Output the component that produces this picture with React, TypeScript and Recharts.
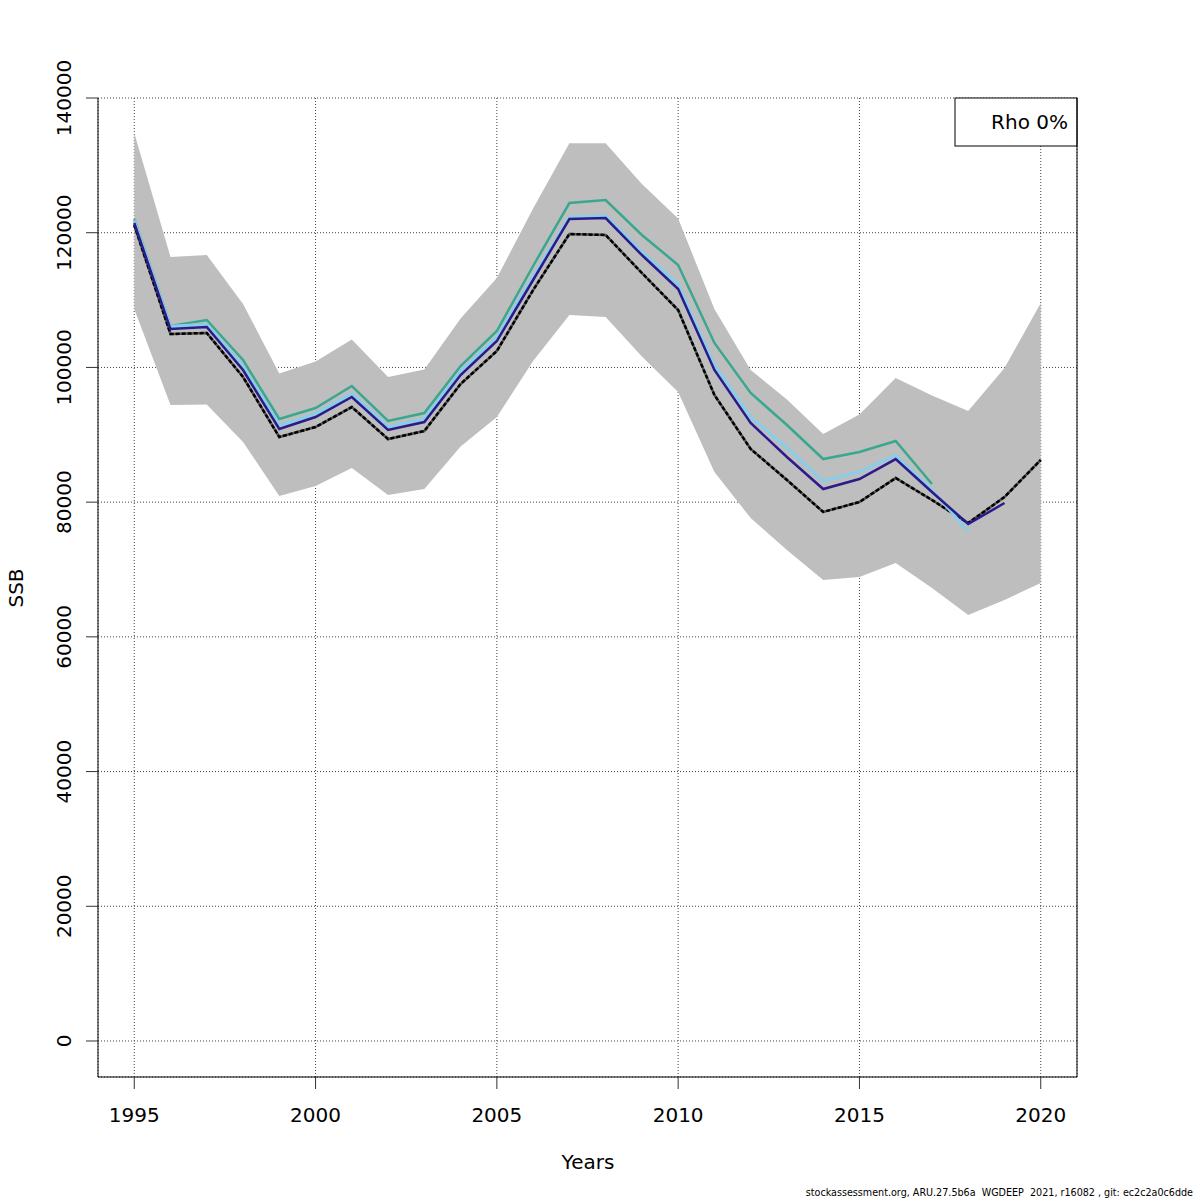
import React from 'react';
import {
  ComposedChart,
  Area,
  Line,
  XAxis,
  YAxis,
  CartesianGrid,
  ReferenceLine,
  Customized,
} from 'recharts';

const FONT = '"DejaVu Sans", Verdana, sans-serif';

const years = [
  1995, 1996, 1997, 1998, 1999, 2000, 2001, 2002, 2003, 2004, 2005, 2006, 2007,
  2008, 2009, 2010, 2011, 2012, 2013, 2014, 2015, 2016, 2017, 2018, 2019, 2020,
];

const bandHigh = [
  134800, 116400, 116700, 109420, 99100, 100880, 104140, 98580, 99690, 107260,
  113270, 123590, 133300, 133300, 127230, 122110, 108670, 99620, 95240, 90110,
  93010, 98430, 95830, 93530, 99910, 109560,
];

const bandLow = [
  108670, 94420, 94500, 88930, 80910, 82400, 85070, 81060, 81950, 88260, 92640,
  100950, 107780, 107490, 101620, 96350, 84470, 77640, 72900, 68440, 68880,
  70960, 67250, 63240, 65470, 68000,
];

const baseSSB = [
  121140, 104960, 105110, 98580, 89670, 91150, 94120, 89370, 90560, 97540,
  102440, 111490, 119810, 119660, 114020, 108520, 95910, 87890, 83290, 78540,
  80020, 83580, 80320, 76900, 80760, 86260,
];

// retrospective peels
const peel2019 = [
  121440, 105700, 106000, 99620, 90860, 92640, 95610, 90710, 91890, 98870,
  103920, 112980, 122030, 122180, 116690, 111640, 99620, 91750, 86700, 81950,
  83430, 86400, 81500, 76750, 79870,
];

const peel2018 = [
  121800, 106100, 106400, 100100, 91400, 93100, 96100, 91200, 92400, 99400,
  104500, 113500, 122300, 122500, 117200, 112300, 100360, 92640, 88040, 83140,
  84470, 87000, 81800, 75710,
];

const peel2017 = [
  122030, 106150, 107040, 101100, 92340, 93980, 97240, 92050, 93230, 100210,
  105410, 115060, 124410, 124860, 119660, 115210, 103630, 96200, 91450, 86400,
  87440, 89080, 82690,
];

const xTicks = [1995, 2000, 2005, 2010, 2015, 2020];
const yTicks = [0, 20000, 40000, 60000, 80000, 100000, 120000, 140000];

const legendText = 'Rho 0%';
const xTitle = 'Years';
const yTitle = 'SSB';
const footer =
  'stockassessment.org, ARU.27.5b6a  WGDEEP  2021, r16082 , git: ec2c2a0c6dde';

const data = years.map((year, i) => ({
  year,
  band: [bandLow[i], bandHigh[i]],
  base: baseSSB[i],
  p2019: i < peel2019.length ? peel2019[i] : null,
  p2018: i < peel2018.length ? peel2018[i] : null,
  p2017: i < peel2017.length ? peel2017[i] : null,
}));

const XTick = (props: any) => {
  const { x, payload } = props;
  return (
    <text
      x={x}
      y={1122}
      textAnchor="middle"
      fontSize={20}
      fontFamily={FONT}
      fill="#000"
    >
      {payload.value}
    </text>
  );
};

const YTick = (props: any) => {
  const { y, payload } = props;
  return (
    <text
      x={71}
      y={y}
      transform={`rotate(-90 71 ${y})`}
      textAnchor="middle"
      fontSize={20}
      fontFamily={FONT}
      fill="#000"
    >
      {payload.value}
    </text>
  );
};

const Decorations = () => (
  <g>
    <rect x={955} y={98} width={122} height={48} fill="#fff" stroke="#000" strokeWidth={1} />
    <text x={1068} y={129} textAnchor="end" fontSize={20} fontFamily={FONT} fill="#000">
      {legendText}
    </text>
    <text x={588} y={1169} textAnchor="middle" fontSize={20} fontFamily={FONT} fill="#000">
      {xTitle}
    </text>
    <text
      x={23}
      y={588}
      transform="rotate(-90 23 588)"
      textAnchor="middle"
      fontSize={20}
      fontFamily={FONT}
      fill="#000"
    >
      {yTitle}
    </text>
    <text
      x={1193}
      y={1196}
      textAnchor="end"
      fontSize={9.6}
      fontFamily={FONT}
      fill="#000"
      xmlSpace="preserve"
      style={{ whiteSpace: 'pre' }}
    >
      {footer}
    </text>
  </g>
);

export default function App() {
  return (
    <div style={{ position: 'absolute', left: 0, top: 0, width: 1200, height: 1200, background: '#fff' }}>
      <ComposedChart
        width={1200}
        height={1200}
        data={data}
        margin={{ top: 98, left: 38, right: 123, bottom: 63 }}
      >
        <XAxis
          dataKey="year"
          type="number"
          domain={[1994, 2021]}
          ticks={xTicks}
          allowDataOverflow
          height={60}
          tickSize={12}
          stroke="#000"
          tickLine={{ stroke: '#333' }}
          tick={<XTick />}
        />
        <YAxis
          type="number"
          domain={[-5345, 140000]}
          ticks={yTicks}
          allowDataOverflow
          width={60}
          tickSize={12}
          stroke="#000"
          tickLine={{ stroke: '#333' }}
          tick={<YTick />}
        />
        <Area
          dataKey="band"
          type="linear"
          fill="#bebebe"
          fillOpacity={1}
          stroke="none"
          isAnimationActive={false}
        />
        <CartesianGrid stroke="#444" strokeDasharray="1 2" strokeWidth={1} />
        <ReferenceLine x={2021} stroke="#000" strokeWidth={1} ifOverflow="visible" />
        <Line dataKey="base" type="linear" stroke="#555" strokeWidth={2.5} dot={false} isAnimationActive={false} />
        <Line dataKey="base" type="linear" stroke="#000" strokeWidth={2.5} strokeDasharray="4 2" dot={false} isAnimationActive={false} />
        <Line dataKey="p2017" type="linear" stroke="#3aa78f" strokeWidth={2.5} dot={false} connectNulls={false} isAnimationActive={false} />
        <Line dataKey="p2018" type="linear" stroke="#87ceeb" strokeWidth={3} dot={false} connectNulls={false} isAnimationActive={false} />
        <Line dataKey="p2019" type="linear" stroke="#2b1a8c" strokeWidth={2.5} dot={false} connectNulls={false} isAnimationActive={false} />
        <Customized component={Decorations} />
      </ComposedChart>
    </div>
  );
}
